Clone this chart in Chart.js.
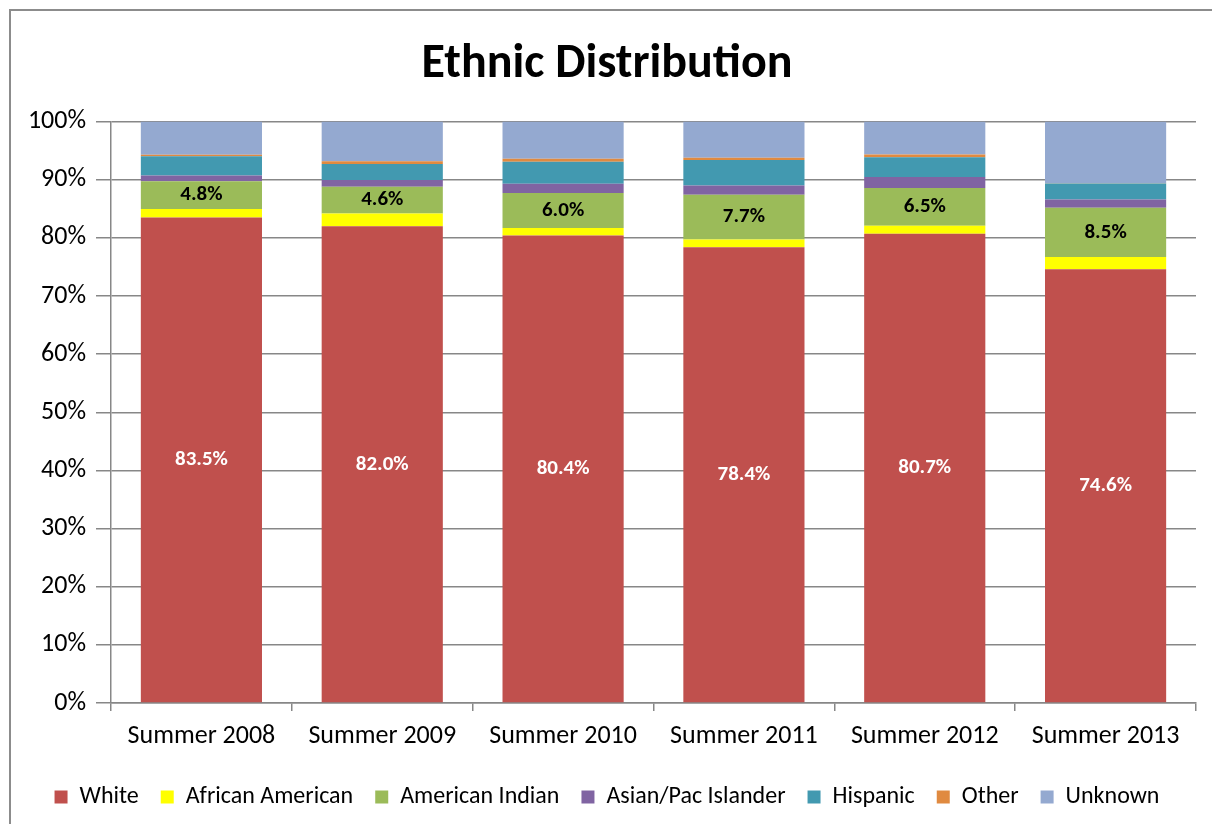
<!DOCTYPE html>
<html>
<head>
<meta charset="utf-8">
<script src="https://cdn.jsdelivr.net/npm/chart.js@4"></script>
<style>
  html, body { margin: 0; padding: 0; background: #fff; }
  #wrap { position: absolute; left: 0; top: 0; width: 1212px; height: 824px; }
</style>
</head>
<body>
<div id="wrap"><canvas id="c"></canvas></div>
<script>
// ── DATA ─────────────────────────────────────────────────────
var YEARS     = ["Summer 2008", "Summer 2009", "Summer 2010", "Summer 2011", "Summer 2012", "Summer 2013"];
var WHITE     = [83.5, 82.0, 80.4, 78.4, 80.7, 74.6];
var AFRICAN   = [1.45, 2.2, 1.3, 1.3, 1.4, 2.1];
var AMINDIAN  = [4.8, 4.6, 6.0, 7.7, 6.5, 8.5];
var ASIAN     = [1.0, 1.15, 1.6, 1.6, 1.85, 1.4];
var HISPANIC  = [3.3, 2.75, 3.8, 4.4, 3.4, 2.75];
var OTHER     = [0.25, 0.5, 0.5, 0.4, 0.5, 0.05];
var UNKNOWN   = [5.7, 6.8, 6.4, 6.2, 5.65, 10.6];
var Y_TICKS   = [0, 10, 20, 30, 40, 50, 60, 70, 80, 90, 100];

var FONT = "Carlito, Lato, 'Open Sans', sans-serif";
var GRAY = "#878787";

// labels drawn inside the White and American Indian segments
var segLabels = {
  id: "segLabels",
  afterDatasetsDraw: function(chart) {
    var ctx = chart.ctx;
    [[0, "#ffffff"], [2, "#000000"]].forEach(function(p) {
      var meta = chart.getDatasetMeta(p[0]);
      var ds = chart.data.datasets[p[0]];
      meta.data.forEach(function(bar, i) {
        var cy = (bar.y + bar.base) / 2;
        ctx.save();
        ctx.font = "bold 21px " + FONT;
        ctx.fillStyle = p[1];
        ctx.textAlign = "center";
        ctx.textBaseline = "middle";
        ctx.fillText(ds.data[i].toFixed(1) + "%", bar.x, cy);
        ctx.restore();
      });
    });
  }
};

// outer chart frame (runs off the right/bottom edge like the original)
var frame = {
  id: "frame",
  beforeDraw: function(chart) {
    var ctx = chart.ctx;
    ctx.save();
    ctx.strokeStyle = "#8c8c8c";
    ctx.lineWidth = 2;
    ctx.strokeRect(10, 10, 1230, 840);
    ctx.restore();
  }
};

function ds(label, data, color) {
  return { label: label, data: data, backgroundColor: color, borderWidth: 0,
           barPercentage: 0.67, categoryPercentage: 1.0 };
}

new Chart(document.getElementById("c").getContext("2d"), {
  type: "bar",
  data: {
    labels: YEARS,
    datasets: [
      ds("White", WHITE, "#C0504D"),
      ds("African American", AFRICAN, "#FFFF00"),
      ds("American Indian", AMINDIAN, "#9BBB59"),
      ds("Asian/Pac Islander", ASIAN, "#8064A2"),
      ds("Hispanic", HISPANIC, "#4299B0"),
      ds("Other", OTHER, "#E08A40"),
      ds("Unknown", UNKNOWN, "#94A9D0")
    ]
  },
  options: {
    responsive: true,
    maintainAspectRatio: false,
    animation: false,
    layout: { padding: { left: 18, right: 16, top: 0, bottom: 5 } },
    plugins: {
      title: {
        display: true, text: "Ethnic Distribution", color: "#000",
        font: { family: FONT, size: 48, weight: "bold" },
        padding: { top: 36, bottom: 28 }
      },
      legend: {
        position: "bottom",
        labels: {
          color: "#000", font: { family: FONT, size: 24 },
          boxWidth: 13, boxHeight: 13, padding: 22
        }
      },
      tooltip: { enabled: false }
    },
    scales: {
      x: {
        stacked: true,
        grid: { display: true, drawOnChartArea: false, offset: true, color: GRAY, lineWidth: 1.5, tickLength: 8 },
        border: { color: GRAY, width: 1.5 },
        ticks: { color: "#000", font: { family: FONT, size: 26 }, padding: 10 },
        afterFit: function(s) { s.height = 60; }
      },
      y: {
        stacked: true, min: 0, max: 100,
        afterBuildTicks: function(s) { s.ticks = Y_TICKS.map(function(v) { return { value: v }; }); },
        grid: { color: GRAY, lineWidth: 1.5, tickLength: 15 },
        border: { color: GRAY, width: 1.5 },
        ticks: { color: "#000", font: { family: FONT, size: 26 }, padding: 10,
                 callback: function(v) { return v + "%"; } },
        afterFit: function(s) { s.width = 93; }
      }
    }
  },
  plugins: [frame, segLabels]
});
</script>
</body>
</html>
